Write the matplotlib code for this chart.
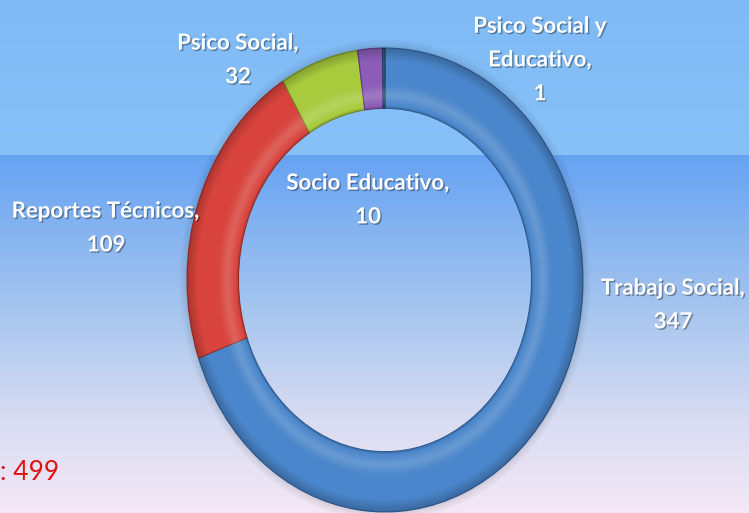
"""Donut chart of report counts by type (Excel-style ring)."""

import matplotlib

matplotlib.use("Agg")
import matplotlib.pyplot as plt
import matplotlib.patheffects as pe
import numpy as np
from matplotlib.colors import to_rgb

categories = ["Trabajo Social", "Reportes Técnicos", "Psico Social", "Socio Educativo", "Psico Social y Educativo"]
label_names = ["Trabajo Social", "Reportes Técnicos", "Psico Social", "Socio Educativo", "Psico Social y\nEducativo"]
values = [347, 109, 32, 10, 1]

colors = ["#4a86cb", "#d8443d", "#a8ca3d", "#8c5db8", "#2c5f86"]
edge_colors = ["#2f5f96", "#9c2e2a", "#6f8c25", "#5e3a80", "#1d3f5c"]
# label centres in pixels (x from left, y from top)
label_pos = [(673, 305), (106, 228), (238, 60), (368, 200), (540, 60)]

W, H = 749, 513
fig = plt.figure(figsize=(W / 100, H / 100), dpi=100)

# background gradient
bg = fig.add_axes([0, 0, 1, 1], zorder=0)
stops_y = [0, 154, 155, 300, 420, 513]
stops_c = ["#7fbaf6", "#88c1f8", "#66a3f3", "#a2c3ee", "#d9dcf2", "#f4e8f5"]
ys = np.arange(H)
rgb = np.array([to_rgb(c) for c in stops_c])
grad = np.stack([np.interp(ys, stops_y, rgb[:, k]) for k in range(3)], axis=1)
img = np.repeat(grad[:, None, :], 8, axis=1)
bg.imshow(img, aspect="auto", extent=[0, 1, 0, 1])
bg.axis("off")

# ring (ellipse stretched like the original)
ax = fig.add_axes([187 / W, 1 / H, 396 / W, 464 / H], zorder=1)
ring_in, ring_out = 0.74, 1.0

# soft shadow just outside the ring
for k, a in enumerate([0.10, 0.06, 0.03]):
    r = ring_out + 0.012 * (k + 1)
    ax.pie(values, colors=["black"] * len(values), startangle=90, counterclock=False,
           radius=r, wedgeprops=dict(width=0.012, linewidth=0, alpha=a))

wedges, _ = ax.pie(
    values,
    colors=colors,
    startangle=90,
    counterclock=False,
    radius=ring_out,
    wedgeprops=dict(width=ring_out - ring_in, linewidth=0.8),
)
for w, ec in zip(wedges, edge_colors):
    w.set_edgecolor(ec)
    w.set_clip_on(False)

# bevel shading: thin rings, light near the inner third, darker at the edges
n = 26
edges = np.linspace(ring_in, ring_out, n + 1)
for i in range(n):
    t = (i + 0.5) / n
    shade = 0.16 * np.exp(-((t - 0.22) / 0.12) ** 2) - 0.22 * max(0, t - 0.8) / 0.2 - 0.15 * max(0, 0.06 - t) / 0.06
    col = "white" if shade > 0 else "black"
    if abs(shade) < 0.005:
        continue
    ax.pie(values, colors=[col] * len(values), startangle=90, counterclock=False,
           radius=edges[i + 1], wedgeprops=dict(width=edges[i + 1] - edges[i], linewidth=0, alpha=abs(shade)))

ax.set_aspect("auto")
ax.set_xlim(-1, 1)
ax.set_ylim(-1, 1)
ax.axis("off")

shadow = [pe.SimplePatchShadow(offset=(1, -1), shadow_rgbFace="black", alpha=0.35), pe.Normal()]
for name, val, (px, py) in zip(label_names, values, label_pos):
    fig.text(
        px / W, 1 - py / H, f"{name},\n{val}",
        ha="center", va="center", color="white", fontsize=16,
        fontweight="bold", family="Lato", linespacing=1.75,
        path_effects=shadow, zorder=3,
    )

fig.text(
    0, 1 - 473 / H, f": {sum(values)}",
    ha="left", va="center", color="#e01212", fontsize=19,
    family="Lato", zorder=3,
)

fig.savefig("out.png", dpi=100)
